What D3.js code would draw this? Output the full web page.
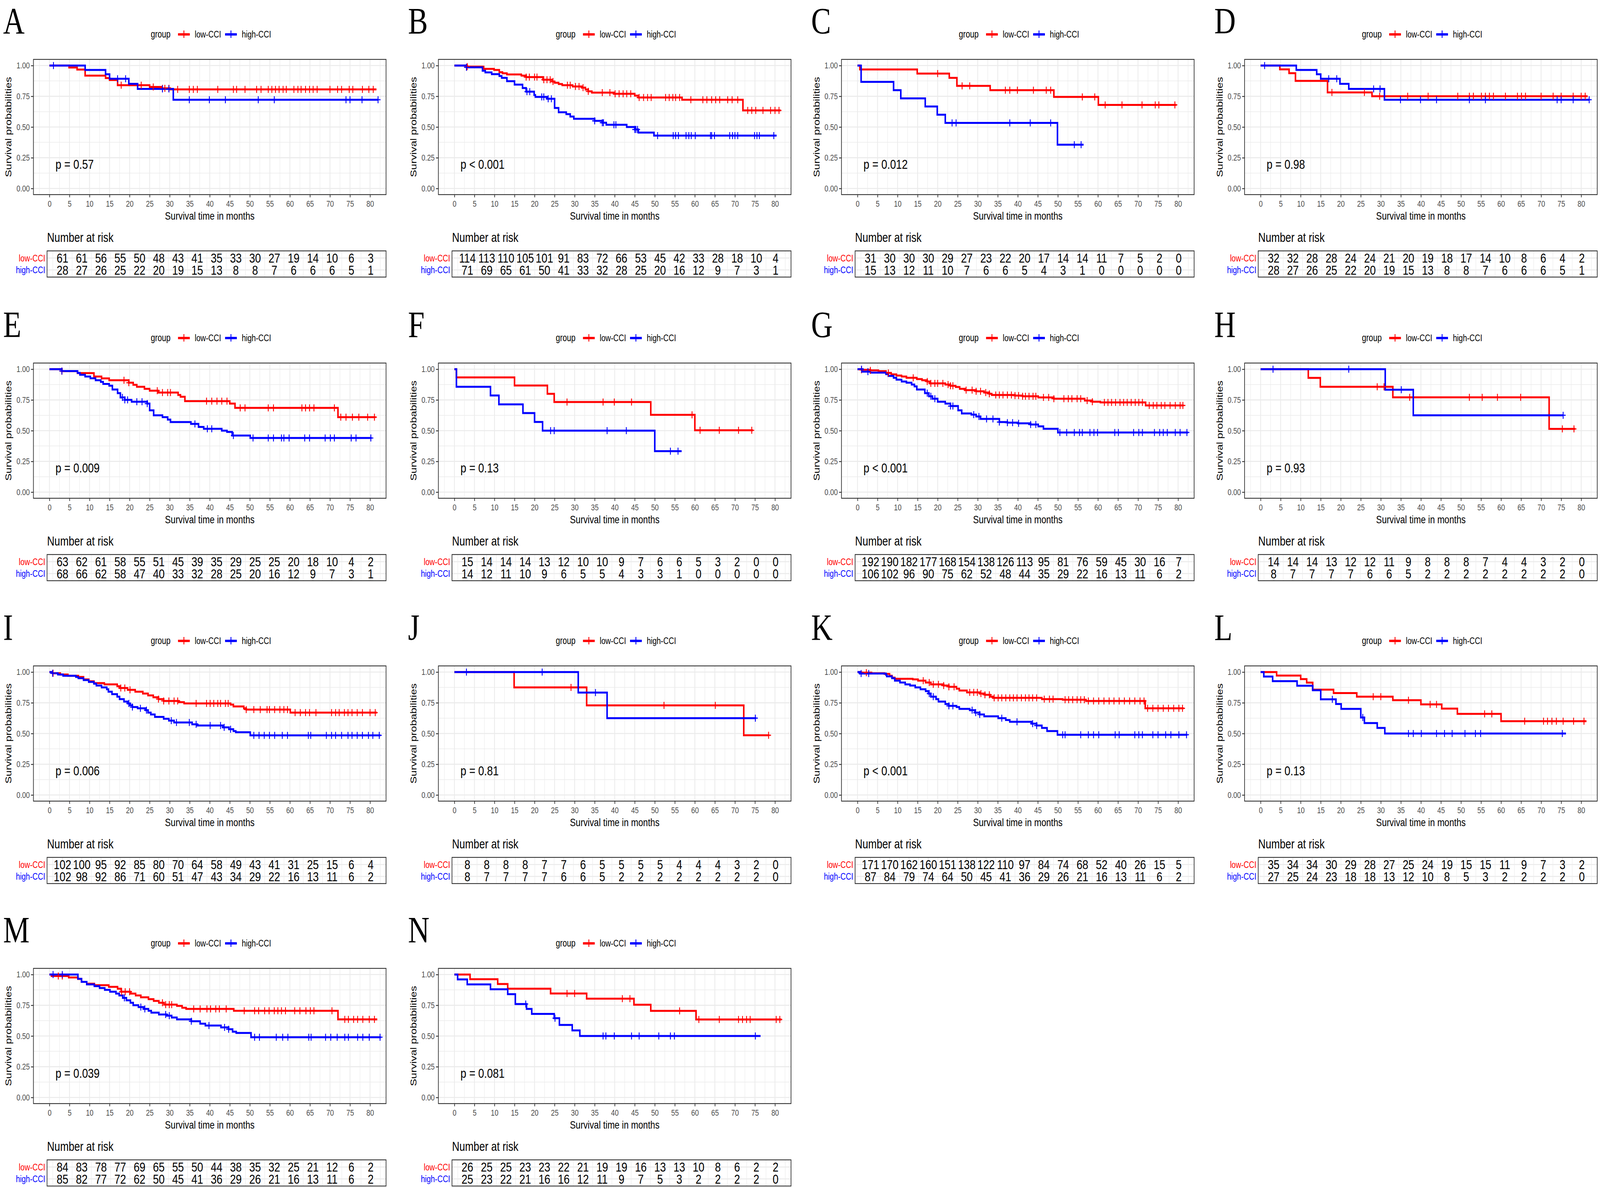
<!DOCTYPE html>
<html>
<head>
<meta charset="utf-8">
<title>Survival by CCI group</title>
<script src="https://cdn.jsdelivr.net/npm/d3@7/dist/d3.min.js"></script>
<style>
  html, body { margin: 0; padding: 0; width: 100%; height: 100%; background: #ffffff; overflow: hidden; }
  svg text { font-family: "Liberation Sans", Arial, Helvetica, sans-serif; }
</style>
</head>
<body>
<div id="figure"></div>
<script>
/* Variables */
const panelLetters = ["A", "B", "C", "D", "E", "F", "G", "H", "I", "J", "K", "L", "M", "N"];
const pValues = ["p = 0.57", "p < 0.001", "p = 0.012", "p = 0.98", "p = 0.009", "p = 0.13", "p < 0.001",
  "p = 0.93", "p = 0.006", "p = 0.81", "p < 0.001", "p = 0.13", "p = 0.039", "p = 0.081"];
const groupNames = ["low-CCI", "high-CCI"];
const groupColors = ["#ff0000", "#0000ff"];
const timeBreaks = [0, 5, 10, 15, 20, 25, 30, 35, 40, 45, 50, 55, 60, 65, 70, 75, 80];
const survBreaks = [0, 0.25, 0.5, 0.75, 1];

// low-CCI curves, one per panel: [month, survival] at every drop, last pair = end of follow-up
const lowSteps = [
  /* A */ [[0,1],[4.9,.984],[6.9,.967],[8.9,.918],[14,.898],[15,.882],[17,.84],[25,.826],[27.9,.815],[30.1,.806],[81.6,.806]],
  /* B */ [[0,1],[3.2,.991],[7.3,.973],[9.9,.964],[11.2,.946],[12,.937],[13.1,.928],[16.7,.918],[17.9,.906],[22.1,.885],[24.4,.87],[25,.86],[26,.85],[26.9,.84],[29.5,.83],[31.8,.82],[32.7,.805],[33.4,.79],[34.3,.78],[39.8,.77],[45,.755],[45.9,.74],[56.8,.722],[72,.635],[81.4,.635]],
  /* C */ [[0,1],[0.6,.968],[14.9,.935],[22.9,.9],[24.8,.835],[33.1,.8],[49,.745],[60.1,.68],[79.6,.68]],
  /* D */ [[0,1],[4.8,.969],[7.1,.938],[8.7,.875],[16.7,.781],[27.8,.75],[81.6,.75]],
  /* E */ [[0,1],[3.1,.984],[7,.968],[11.1,.94],[13,.925],[14.9,.91],[19.8,.89],[20.9,.873],[21.8,.857],[23.7,.84],[25,.825],[27.2,.81],[32.1,.79],[32.7,.776],[33.8,.74],[45,.72],[46.3,.685],[72,.61],[81.4,.61]],
  /* F */ [[0,1],[0.5,.933],[15,.867],[23.2,.8],[24.9,.733],[49,.629],[60,.503],[74.5,.503]],
  /* G */ [[0,1],[1,.995],[3.2,.99],[5.2,.984],[7.1,.97],[8.4,.958],[9.7,.948],[11,.94],[12.2,.93],[14.8,.92],[16.1,.91],[17.4,.9],[18,.885],[21.9,.875],[23.2,.865],[24.5,.855],[25.5,.84],[26.8,.83],[29.6,.82],[31.6,.81],[32.9,.8],[33.5,.79],[39.3,.785],[41.2,.78],[45.1,.77],[49,.76],[56.7,.745],[58.6,.735],[60.6,.73],[71.9,.705],[81.4,.705]],
  /* H */ [[0,1],[11.9,.929],[14.9,.857],[33,.771],[72,.514],[78.5,.514]],
  /* I */ [[0,1],[0.8,.99],[2.7,.98],[4.6,.97],[7.2,.96],[8.5,.94],[9.8,.925],[11.1,.91],[13.7,.9],[16.9,.885],[17.5,.87],[19.5,.855],[21.4,.84],[23.3,.825],[24.6,.81],[25.9,.795],[27.2,.78],[28.5,.765],[32.3,.755],[33.6,.745],[45.2,.735],[45.9,.72],[48.5,.705],[49.1,.695],[60.1,.67],[81.7,.67]],
  /* J */ [[0,1],[14.9,.875],[33,.729],[72.2,.486],[78.6,.486]],
  /* K */ [[0,1],[0.9,.995],[3.5,.99],[6.7,.985],[8,.97],[8.6,.955],[9.3,.945],[13.8,.94],[15.1,.93],[17,.915],[18.3,.9],[21.5,.89],[22.8,.88],[24.7,.865],[25.4,.85],[27.3,.835],[30.5,.825],[31.8,.815],[33.1,.8],[33.8,.79],[46,.78],[51.2,.775],[57,.765],[71.8,.705],[81.4,.705]],
  /* L */ [[0,1],[4,.971],[10,.943],[11.5,.914],[13,.857],[18.2,.829],[24,.8],[33,.771],[40,.737],[45.2,.703],[49.1,.66],[60,.6],[81.3,.6]],
  /* M */ [[0,1],[0.5,.988],[4.8,.976],[7.1,.964],[8,.94],[9.3,.925],[11.2,.913],[14.8,.9],[17,.885],[17.9,.86],[20.2,.845],[21.5,.83],[22.8,.815],[24.7,.8],[26,.785],[27.3,.77],[28.6,.755],[31.8,.745],[33.1,.73],[34.1,.72],[46,.705],[72,.635],[81.8,.635]],
  /* N */ [[0,1],[3.9,.962],[10.8,.923],[13.3,.885],[24,.846],[33,.804],[44.8,.754],[49,.704],[60.3,.634],[81.6,.634]]
];

// high-CCI curves, same layout
const highSteps = [
  /* A */ [[0,1],[8.9,.964],[14,.929],[15,.893],[19.8,.851],[22,.81],[30.9,.722],[82,.722]],
  /* B */ [[0,1],[3,.986],[7,.958],[7.7,.944],[9.3,.93],[11.2,.915],[11.8,.9],[13.1,.873],[15,.845],[17,.817],[17.9,.788],[19.9,.76],[20.2,.745],[23.1,.73],[25,.655],[26,.62],[27.9,.605],[28.9,.585],[29.8,.567],[35,.55],[36.9,.535],[37.9,.518],[43,.5],[45,.48],[45.9,.455],[49.8,.43],[80.4,.43]],
  /* C */ [[0,1],[0.9,.867],[9,.8],[10.8,.733],[16.9,.667],[19.9,.6],[21.9,.533],[49.9,.356],[56.4,.356]],
  /* D */ [[0,1],[8.9,.964],[14,.929],[15,.893],[19.8,.851],[22,.81],[30.9,.722],[82,.722]],
  /* E */ [[0,1],[3.1,.985],[7,.97],[7.6,.955],[8.9,.94],[10.2,.926],[11.5,.91],[12.8,.897],[13.4,.88],[14.9,.866],[15.7,.835],[17,.805],[17.7,.77],[18.8,.75],[20.5,.735],[24.4,.72],[25,.665],[26,.625],[28.2,.61],[29.5,.59],[30.2,.57],[35.3,.555],[37.2,.53],[38.5,.515],[43,.5],[44.3,.49],[45.6,.46],[50.1,.44],[80.4,.44]],
  /* F */ [[0,1],[0.5,.857],[9,.786],[11.1,.714],[17.1,.643],[20,.571],[22,.5],[50,.333],[56.7,.333]],
  /* G */ [[0,1],[1.3,.98],[3.2,.972],[7.1,.96],[7.7,.945],[9,.93],[9.7,.915],[11,.9],[12.2,.89],[13.5,.875],[14.2,.86],[14.8,.835],[16.8,.805],[17.8,.78],[18.7,.76],[20,.735],[21.9,.72],[23.2,.7],[25.1,.665],[26,.64],[28.4,.63],[29.6,.615],[30.7,.595],[35.4,.57],[37.4,.565],[40,.56],[43.2,.55],[45.1,.535],[46.4,.515],[50,.485],[82.5,.485]],
  /* H */ [[0,1],[31.1,.833],[38.1,.625],[75.5,.625]],
  /* I */ [[0,1],[0.8,.99],[2.1,.98],[3.4,.97],[6.6,.96],[7.2,.95],[8.5,.935],[9.8,.92],[11.1,.905],[11.7,.89],[13,.875],[14.3,.86],[14.7,.84],[15.6,.82],[16.9,.8],[17.5,.78],[18.6,.76],[19.5,.745],[20.1,.73],[20.7,.715],[22,.705],[24,.69],[24.6,.67],[25.3,.655],[26.3,.635],[28.5,.62],[29.8,.605],[31.1,.59],[35.6,.575],[36.9,.565],[43.3,.55],[44.8,.535],[45.9,.52],[46.5,.51],[50.1,.485],[82.6,.485]],
  /* J */ [[0,1],[30.9,.833],[38.1,.625],[75.3,.625]],
  /* K */ [[0,1],[0.6,.988],[7.1,.977],[7.3,.965],[8.6,.95],[9.3,.93],[10.6,.915],[11.9,.9],[13.1,.89],[14.4,.875],[15.7,.86],[17,.845],[17.7,.825],[18.3,.8],[19.6,.78],[20.2,.76],[21.9,.74],[22.8,.725],[24.7,.715],[25.4,.7],[28,.69],[29.3,.67],[30.5,.655],[31.6,.64],[35.1,.625],[37,.61],[38,.595],[43.4,.58],[44.7,.565],[46,.545],[47.3,.52],[49.9,.49],[82.3,.49]],
  /* L */ [[0,1],[0.8,.963],[3,.926],[9.1,.889],[13,.852],[15,.778],[18.8,.74],[20.1,.7],[25,.63],[25.9,.585],[29.1,.545],[31,.5],[76.2,.5]],
  /* M */ [[0,1],[7.1,.965],[8,.94],[9.3,.92],[11.2,.905],[12.5,.89],[13.8,.875],[15.1,.86],[16.6,.845],[17.4,.83],[18.3,.81],[19.2,.79],[20.2,.77],[20.9,.75],[22.2,.735],[23.5,.72],[24.7,.705],[25.4,.69],[27.3,.675],[29.3,.665],[30.5,.65],[31.8,.635],[35.4,.62],[37.6,.6],[38.9,.585],[42.8,.57],[44.7,.555],[45.7,.535],[46.6,.525],[50.3,.49],[82.7,.49]],
  /* N */ [[0,1],[0.8,.96],[3.2,.92],[9,.88],[13.3,.84],[15.2,.76],[18,.72],[19.3,.68],[24.9,.645],[26.2,.59],[29.4,.545],[31.3,.5],[76.4,.5]]
];

// censoring times (months)
const lowCensor = [
  /* A */ [17.9,22.9,25.9,28.2,28.8,29.8,32,34.9,35.9,36.9,42,45.9,46.7,48.8,51.7,52.8,54.6,55.5,56.4,57.3,58.3,59.1,61,62,62.8,63.9,64.9,65.8,66.8,70,71.9,72.9,74.8,75.7,78.1,79.7,80.8],
  /* B */ [3.2,17.9,18.7,20,20.6,22.3,23.1,23.9,24.6,28.2,28.9,30.2,31.1,32.1,33.4,36.9,38.8,40.1,41.1,42.1,43,44,46.1,47.2,48.2,49.1,52.7,53.6,54.5,55.2,56.2,59,62,63,64.2,65.2,66.2,68.2,69.3,70.7,73.2,74.2,75.2,77,78.9,80,81],
  /* C */ [20,26.1,28,36.9,38,39.9,43.9,47.1,48.2,56.1,59.2,61.8,66,71,74.3,75.2,79.2],
  /* D */ [17.8,25.9,29.7,36.7,41.8,49.2,52.1,53.1,55.1,56.1,57.1,58.1,61.1,64.1,65.1,66.1,70,73,75,78,80,81],
  /* E */ [3.1,18.6,19.8,26.9,28.2,29.5,30.2,39.2,40.5,41.8,43,44.3,47.6,48.8,54.6,55.9,63,63.9,64.9,66,71.1,72.7,74,75.6,77.2,79.4,81.1],
  /* F */ [28.1,37.1,39.9,44.2,59.3,61.3,66.1,70.9,74.2],
  /* G */ [1,3.2,7.7,13.9,17.4,18.3,19.3,20,21.3,22.6,23.2,23.8,27.1,28.6,29.6,30.7,32,32.9,34.5,35.4,36.3,37.4,38.4,39.3,40.2,41.2,41.9,42.8,43.8,44.5,46.4,47.7,49,51.5,52.6,53.5,54.8,55.7,57.3,58.6,61.6,62.5,63.4,64.4,65.5,66.4,67.3,68.3,69.3,70.2,71.1,72.8,73.8,74.7,75.8,76.7,78,79.3,80.5,81.2],
  /* H */ [29.1,30.8,37.2,52.1,55.3,59.1,64.9,75.3,78.2],
  /* I */ [0.9,17.8,18.8,20.1,27.2,28.5,29.8,31.1,32,36.6,39.2,40.1,41,42,42.7,43.9,44.6,49.1,51,52.6,54.3,54.9,56.2,57.5,58.5,59.4,61.3,62.6,63.9,64.9,66.5,70.4,71.4,72.3,73.6,74.5,75.5,76.8,78.1,80,81.3],
  /* J */ [29.1,52.3,65.1,78.4],
  /* K */ [2.2,16.4,17.9,18.9,20.2,21.5,22.8,24.1,28,29,29.9,30.8,31.8,32.9,34.1,35.1,36,37,38,38.9,39.8,40.9,41.9,42.8,43.7,44.7,46.6,47.9,48.8,51.8,52.7,53.7,54.8,55.7,56.6,57.6,58.9,60.2,61.5,62.8,64,65.3,66.6,67.9,69.2,70.5,71.5,72.4,73.7,75,76.3,77.6,78.9,80.2,81.1],
  /* L */ [28.1,30,36.9,42.3,43.9,55.9,57.7,65.9,70.6,71.6,72.7,73.8,75.5,78.1,80.7],
  /* M */ [2.2,3.2,18,18.9,20,28.2,29,29.9,30.5,36,37.6,39.3,40.2,41.5,42.4,44.1,48.6,51.2,52.2,53.7,54.8,56.1,57,57.9,58.9,61.2,62.5,64,65.1,66,70.5,73.7,74.6,75.9,76.9,78.2,79.8,81.1],
  /* N */ [28.1,30,41.9,43.8,56.2,61,66.1,70.9,71.9,72.9,73.8,80.3,81.2]
];

const highCensor = [
  /* A */ [1,17,19,28.2,29.8,34.9,39.9,43.9,52.1,56.1,74,75,78,82],
  /* B */ [3,18.1,18.8,21.8,22.3,23.4,24.2,35,36.9,37.2,39.8,40.3,45,45.3,45.7,50.7,54.6,55.2,55.9,57.8,58.5,59.1,60.1,63.9,64.2,64.9,68.7,69.4,70,70.7,74.9,75.5,76.1,79.7],
  /* C */ [23.6,24.6,38,43.1,48.2,54.1,55.8],
  /* D */ [1,17,19,28.2,29.8,34.9,39.9,43.9,52.1,56.1,74,75,78,82],
  /* E */ [3.1,18.2,18.8,19.5,21.8,23.1,24.4,36.3,39.4,40.5,45.9,50.8,54.6,55.9,57.9,58.5,59.8,63.7,64.9,68.8,70.1,71.1,75.3,76.5,80.2],
  /* F */ [24,24.9,38.1,42.9,53.9,55.8],
  /* G */ [1,2.6,17.4,18.3,19.3,23.2,23.8,29,30.3,32.2,33.8,35.4,37.4,38.7,40.2,43.2,44.5,50.5,52.2,54.1,55.4,56.1,58,59,59.9,64.2,65.1,68.9,70.2,71.1,74.1,75.4,76.3,77.3,79.3,80.5,82.2],
  /* H */ [3.1,22,35.1,75.5],
  /* I */ [0.8,19.8,20.7,22.7,24.2,30.4,31.7,34.9,36.6,40.1,42.7,43.6,45.2,51,52.3,53.6,54.9,56.2,58.1,59.4,64.6,65.2,69.1,70.4,71.4,72.9,74.5,75.5,76.8,78.1,79.6,80.7,82.3],
  /* J */ [3,21.9,35.2,75.1],
  /* K */ [0.9,2.8,17.9,18.9,22.8,23.8,28.6,29.5,30.5,36,39.8,43.7,44.7,51.2,51.8,55.7,57.6,58.9,60.2,64.3,65.3,69.2,70.2,71.1,73.7,75,76.9,78.2,80.2,82.1],
  /* L */ [17.9,25.5,36.9,38.1,40.1,43.9,45.9,47.8,51,53.6,54.9,75.3],
  /* M */ [0.9,3.2,18.7,22.8,23.8,29,29.9,35.4,39.8,43.7,44.7,51.2,52.4,56.6,58.2,59.5,64.7,65.3,68.9,70.2,71.8,73.7,74.6,76.9,78.2,79.8,82.5],
  /* N */ [17.8,25.1,37.1,37.8,39.9,44.2,46.1,51,53.9,54.9,75.1]
];

// number at risk at 0, 5, ..., 80 months
const riskLow = [
  /* A */ [61,61,56,55,50,48,43,41,35,33,30,27,19,14,10,6,3],
  /* B */ [114,113,110,105,101,91,83,72,66,53,45,42,33,28,18,10,4],
  /* C */ [31,30,30,30,29,27,23,22,20,17,14,14,11,7,5,2,0],
  /* D */ [32,32,28,28,24,24,21,20,19,18,17,14,10,8,6,4,2],
  /* E */ [63,62,61,58,55,51,45,39,35,29,25,25,20,18,10,4,2],
  /* F */ [15,14,14,14,13,12,10,10,9,7,6,6,5,3,2,0,0],
  /* G */ [192,190,182,177,168,154,138,126,113,95,81,76,59,45,30,16,7],
  /* H */ [14,14,14,13,12,12,11,9,8,8,8,7,4,4,3,2,0],
  /* I */ [102,100,95,92,85,80,70,64,58,49,43,41,31,25,15,6,4],
  /* J */ [8,8,8,8,7,7,6,5,5,5,5,4,4,4,3,2,0],
  /* K */ [171,170,162,160,151,138,122,110,97,84,74,68,52,40,26,15,5],
  /* L */ [35,34,34,30,29,28,27,25,24,19,15,15,11,9,7,3,2],
  /* M */ [84,83,78,77,69,65,55,50,44,38,35,32,25,21,12,6,2],
  /* N */ [26,25,25,23,23,22,21,19,19,16,13,13,10,8,6,2,2]
];

const riskHigh = [
  /* A */ [28,27,26,25,22,20,19,15,13,8,8,7,6,6,6,5,1],
  /* B */ [71,69,65,61,50,41,33,32,28,25,20,16,12,9,7,3,1],
  /* C */ [15,13,12,11,10,7,6,6,5,4,3,1,0,0,0,0,0],
  /* D */ [28,27,26,25,22,20,19,15,13,8,8,7,6,6,6,5,1],
  /* E */ [68,66,62,58,47,40,33,32,28,25,20,16,12,9,7,3,1],
  /* F */ [14,12,11,10,9,6,5,5,4,3,3,1,0,0,0,0,0],
  /* G */ [106,102,96,90,75,62,52,48,44,35,29,22,16,13,11,6,2],
  /* H */ [8,7,7,7,7,6,6,5,2,2,2,2,2,2,2,2,0],
  /* I */ [102,98,92,86,71,60,51,47,43,34,29,22,16,13,11,6,2],
  /* J */ [8,7,7,7,7,6,6,5,2,2,2,2,2,2,2,2,0],
  /* K */ [87,84,79,74,64,50,45,41,36,29,26,21,16,13,11,6,2],
  /* L */ [27,25,24,23,18,18,13,12,10,8,5,3,2,2,2,2,0],
  /* M */ [85,82,77,72,62,50,45,41,36,29,26,21,16,13,11,6,2],
  /* N */ [25,23,22,21,16,16,12,11,9,7,5,3,2,2,2,2,0]
];


/* Layout */
const fig = { width: 5168, height: 3040 };
const colX = [0, 1308, 2610, 3912];
const rowY = [0, 777, 1552, 2326];
const plotBox = { left: 108, right: 1247, top: 152, bottom: 498 };
const tableBox = { left: 152, right: 1247, top: 642, bottom: 709 };
const timeDomain = [-4, 84];
const lineWidth = 5;


/* Helpers */
function survivalAt(steps, t) {
  // value of a step curve at time t
  let s = 1;
  steps.forEach(function(p) { if (p[0] <= t) s = p[1]; });
  return s;
};

function styleAxis(axisG, fontSize) {
  axisG.attr("font-size", null).attr("font-family", null);
  axisG.select(".domain").remove();
  axisG.selectAll(".tick line").attr("stroke", "#333333").attr("stroke-width", 2.2);
  axisG.selectAll(".tick text").attr("fill", "#4d4d4d").style("font-size", fontSize + "px");
};

function drawLegend(g) {
  // "group  + low-CCI  + high-CCI" on top of the panel
  const base = 96, mid = 88;
  g.append("text").attr("x", 487).attr("y", base).style("font-size", "25px").text("group");

  const keyX = [575, 727], labelX = [629, 781];
  groupNames.forEach(function(name, k) {
    g.append("line")
      .attr("x1", keyX[k]).attr("x2", keyX[k] + 38)
      .attr("y1", mid).attr("y2", mid)
      .attr("stroke", groupColors[k]).attr("stroke-width", lineWidth + 1);
    let cx = keyX[k] + 19;
    g.append("path")
      .attr("d", "M" + (cx - 8) + "," + mid + "h16M" + cx + "," + (mid - 10) + "v19")
      .attr("stroke", groupColors[k]).attr("stroke-width", 2.8).attr("fill", "none");
    g.append("text").attr("x", labelX[k]).attr("y", base)
      .style("font-size", "24px").text(name);
  });
};


/* Panel */
function drawPanel(svg, i) {
  let g = svg.append("g")
    .attr("transform", "translate(" + colX[i % 4] + "," + rowY[Math.floor(i / 4)] + ")");

  var x = d3.scaleLinear().domain(timeDomain).range([plotBox.left, plotBox.right]);
  var y = d3.scaleLinear().domain([-0.05, 1.05]).range([plotBox.bottom, plotBox.top]);

  // Panel letter (em box kept inside the figure)
  g.append("text")
    .attr("x", 10).attr("y", 86)
    .style("font-family", "'Liberation Serif', 'Times New Roman', serif")
    .style("font-size", "96px")
    .text(panelLetters[i]);

  drawLegend(g);

  // Grid (theme_bw)
  let grid = g.append("g");
  let minorT = timeBreaks.map(function(t) { return t - 2.5; }).concat([82.5]);
  let minorS = [0.125, 0.375, 0.625, 0.875];
  minorT.forEach(function(t) {
    grid.append("line").attr("x1", x(t)).attr("x2", x(t))
      .attr("y1", plotBox.top).attr("y2", plotBox.bottom)
      .attr("stroke", "#ebebeb").attr("stroke-width", 1.4);
  });
  minorS.forEach(function(s) {
    grid.append("line").attr("x1", plotBox.left).attr("x2", plotBox.right)
      .attr("y1", y(s)).attr("y2", y(s))
      .attr("stroke", "#ebebeb").attr("stroke-width", 1.4);
  });
  timeBreaks.forEach(function(t) {
    grid.append("line").attr("x1", x(t)).attr("x2", x(t))
      .attr("y1", plotBox.top).attr("y2", plotBox.bottom)
      .attr("stroke", "#ebebeb").attr("stroke-width", 2.6);
  });
  survBreaks.forEach(function(s) {
    grid.append("line").attr("x1", plotBox.left).attr("x2", plotBox.right)
      .attr("y1", y(s)).attr("y2", y(s))
      .attr("stroke", "#ebebeb").attr("stroke-width", 2.6);
  });

  // Survival curves
  let line = d3.line()
    .x(function(d) { return x(d[0]); })
    .y(function(d) { return y(d[1]); })
    .curve(d3.curveStepAfter);

  let curves = [lowSteps[i], highSteps[i]];
  let censors = [lowCensor[i], highCensor[i]];

  curves.forEach(function(steps, k) {
    g.append("path")
      .attr("d", line(steps))
      .attr("fill", "none")
      .attr("stroke", groupColors[k])
      .attr("stroke-width", lineWidth)
      .attr("stroke-linejoin", "miter");
  });

  censors.forEach(function(times, k) {
    let d = times.map(function(t) {
      let cx = x(t), cy = y(survivalAt(curves[k], t));
      return "M" + (cx - 8) + "," + cy + "h16M" + cx + "," + (cy - 9) + "v18";
    }).join("");
    g.append("path").attr("d", d)
      .attr("fill", "none").attr("stroke", groupColors[k]).attr("stroke-width", 2.8);
  });

  // Panel border
  g.append("rect")
    .attr("x", plotBox.left).attr("y", plotBox.top)
    .attr("width", plotBox.right - plotBox.left).attr("height", plotBox.bottom - plotBox.top)
    .attr("fill", "none").attr("stroke", "#333333").attr("stroke-width", 2.2);

  // Axes
  let yAxis = g.append("g")
    .attr("transform", "translate(" + plotBox.left + ",0)")
    .call(d3.axisLeft(y).tickValues(survBreaks).tickFormat(d3.format(".2f"))
      .tickSize(8).tickPadding(4));
  styleAxis(yAxis, 22);

  let xAxis = g.append("g")
    .attr("transform", "translate(0," + plotBox.bottom + ")")
    .call(d3.axisBottom(x).tickValues(timeBreaks).tickSize(7).tickPadding(8));
  styleAxis(xAxis, 22);

  // Titles
  g.append("text")
    .attr("x", (plotBox.left + plotBox.right) / 2).attr("y", 562)
    .attr("text-anchor", "middle").style("font-size", "28px")
    .text("Survival time in months");

  g.append("text")
    .attr("transform", "translate(37," + (plotBox.top + plotBox.bottom) / 2 + ") rotate(-90)")
    .attr("text-anchor", "middle").style("font-size", "28px")
    .text("Survival probabilities");

  // p-value
  g.append("text")
    .attr("x", x(1.5)).attr("y", y(0.2))
    .attr("dominant-baseline", "central").style("font-size", "34px")
    .text(pValues[i]);

  drawRiskTable(g, i);
};


/* Risk table */
function drawRiskTable(g, i) {
  var xt = d3.scaleLinear().domain(timeDomain).range([tableBox.left, tableBox.right]);
  var yt = d3.scaleLinear().domain([0.4, 2.6]).range([tableBox.top, tableBox.bottom]);

  g.append("text")
    .attr("x", tableBox.left).attr("y", 619)
    .style("font-size", "33px").text("Number at risk");

  let grid = g.append("g");
  timeBreaks.forEach(function(t) {
    [t - 2.5, t].forEach(function(v, m) {
      grid.append("line").attr("x1", xt(v)).attr("x2", xt(v))
        .attr("y1", tableBox.top).attr("y2", tableBox.bottom)
        .attr("stroke", "#ebebeb").attr("stroke-width", m ? 2.6 : 1.4);
    });
  });
  grid.append("line").attr("x1", xt(82.5)).attr("x2", xt(82.5))
    .attr("y1", tableBox.top).attr("y2", tableBox.bottom)
    .attr("stroke", "#ebebeb").attr("stroke-width", 1.4);
  [1, 2].forEach(function(r) {
    grid.append("line").attr("x1", tableBox.left).attr("x2", tableBox.right)
      .attr("y1", yt(r)).attr("y2", yt(r))
      .attr("stroke", "#ebebeb").attr("stroke-width", 2.6);
  });

  let rows = [riskLow[i], riskHigh[i]];
  rows.forEach(function(counts, k) {
    g.append("text")
      .attr("x", tableBox.left - 6).attr("y", yt(k + 1))
      .attr("text-anchor", "end").attr("dominant-baseline", "central")
      .attr("fill", groupColors[k]).style("font-size", "24px")
      .text(groupNames[k]);

    g.selectAll(null).data(counts).enter().append("text")
      .attr("x", function(d, j) { return xt(timeBreaks[j]); })
      .attr("y", yt(k + 1))
      .attr("text-anchor", "middle").attr("dominant-baseline", "central")
      .style("font-size", "34px")
      .text(function(d) { return d; });
  });

  g.append("rect")
    .attr("x", tableBox.left).attr("y", tableBox.top)
    .attr("width", tableBox.right - tableBox.left).attr("height", tableBox.bottom - tableBox.top)
    .attr("fill", "none").attr("stroke", "#333333").attr("stroke-width", 2.2);
};


/* Main */
function makeGraph() {
  // the figure is laid out in 5168 x 3040 units and stretched to fill the window
  var svg = d3.select("#figure").append("svg")
    .attr("viewBox", "0 0 " + fig.width + " " + fig.height)
    .attr("preserveAspectRatio", "none")
    .style("display", "block")
    .style("width", "100vw")
    .style("height", "100vh")
    .style("background", "#ffffff");

  panelLetters.forEach(function(letter, i) { drawPanel(svg, i); });
};

makeGraph();
</script>
</body>
</html>
